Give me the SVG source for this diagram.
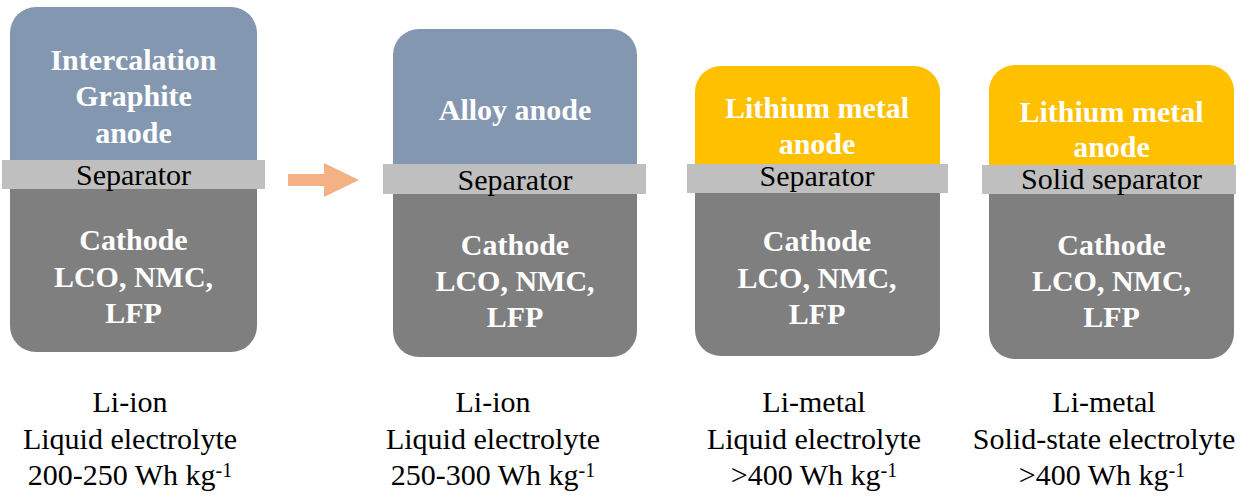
<svg xmlns="http://www.w3.org/2000/svg" width="1249" height="498" viewBox="0 0 1249 498">
<style>
.blue{fill:#8497B0}
.yel{fill:#FFC000}
.cat{fill:#7F7F7F}
.sep{fill:#BFBFBF}
text{font-family:'Liberation Serif', 'Times New Roman', serif;font-size:30px;text-anchor:middle}
.w{fill:#FFFFFF;font-weight:bold}
.k{fill:#000000}
.sup{font-size:20px}
</style>
<defs>
<clipPath id="edge"><rect x="0" y="0" width="1236" height="498"/></clipPath>
</defs>
<rect width="1249" height="498" fill="#FFFFFF"/>

<g id="cell1">
<path class="blue" d="M10 170 V33 A26 26 0 0 1 36 7 H231 A26 26 0 0 1 257 33 V170 Z"/>
<path class="cat" d="M10 182 H257 V326 A26 26 0 0 1 231 352 H36 A26 26 0 0 1 10 326 Z"/>
<rect class="sep" x="2" y="160" width="263" height="29"/>
<text class="w" x="133.5" y="70">Intercalation</text>
<text class="w" x="133.5" y="106">Graphite</text>
<text class="w" x="133.5" y="143">anode</text>
<text class="k" x="133.5" y="185">Separator</text>
<text class="w" x="133.5" y="250">Cathode</text>
<text class="w" x="133.5" y="287">LCO, NMC,</text>
<text class="w" x="133.5" y="323">LFP</text>
</g>

<g id="cell2">
<path class="blue" d="M393 175 V55 A26 26 0 0 1 419 29 H611 A26 26 0 0 1 637 55 V175 Z"/>
<path class="cat" d="M393 186 H637 V331 A26 26 0 0 1 611 357 H419 A26 26 0 0 1 393 331 Z"/>
<rect class="sep" x="383" y="164" width="263" height="30"/>
<text class="w" x="515" y="120">Alloy anode</text>
<text class="k" x="515" y="190">Separator</text>
<text class="w" x="515" y="255">Cathode</text>
<text class="w" x="515" y="291">LCO, NMC,</text>
<text class="w" x="515" y="327">LFP</text>
</g>

<g id="cell3">
<path class="yel" d="M695 175 V92 A26 26 0 0 1 721 66 H914 A26 26 0 0 1 940 92 V175 Z"/>
<path class="cat" d="M695 186 H940 V330 A26 26 0 0 1 914 356 H721 A26 26 0 0 1 695 330 Z"/>
<rect class="sep" x="687" y="164" width="261" height="29"/>
<text class="w" x="817" y="118">Lithium metal</text>
<text class="w" x="817" y="154">anode</text>
<text class="k" x="817" y="186">Separator</text>
<text class="w" x="817" y="251">Cathode</text>
<text class="w" x="817" y="288">LCO, NMC,</text>
<text class="w" x="817" y="324">LFP</text>
</g>

<g id="cell4">
<path class="yel" d="M989 175 V91 A26 26 0 0 1 1015 65 H1208 A26 26 0 0 1 1234 91 V175 Z"/>
<path class="cat" d="M989 186 H1234 V333 A26 26 0 0 1 1208 359 H1015 A26 26 0 0 1 989 333 Z"/>
<rect class="sep" x="982" y="165" width="254" height="29"/>
<text class="w" x="1111.5" y="121.5">Lithium metal</text>
<text class="w" x="1111.5" y="157">anode</text>
<text class="k" x="1111.5" y="189">Solid separator</text>
<text class="w" x="1111.5" y="255">Cathode</text>
<text class="w" x="1111.5" y="291">LCO, NMC,</text>
<text class="w" x="1111.5" y="327">LFP</text>
</g>

<g id="connectors">
<polygon fill="#F4B183" points="288,174 324,174 324,163 359,180 324,197 324,186 288,186"/>
</g>

<g id="label1">
<text class="k" x="130" y="412">Li-ion</text>
<text class="k" x="130" y="448.5">Liquid electrolyte</text>
<text class="k" x="130" y="485">200-250 Wh kg<tspan class="sup" dy="-8">-1</tspan></text>
</g>
<g id="label2">
<text class="k" x="493" y="412">Li-ion</text>
<text class="k" x="493" y="448.5">Liquid electrolyte</text>
<text class="k" x="493" y="485">250-300 Wh kg<tspan class="sup" dy="-8">-1</tspan></text>
</g>
<g id="label3">
<text class="k" x="814" y="412">Li-metal</text>
<text class="k" x="814" y="448.5">Liquid electrolyte</text>
<text class="k" x="814" y="485">&gt;400 Wh kg<tspan class="sup" dy="-8">-1</tspan></text>
</g>
<g id="label4" clip-path="url(#edge)">
<text class="k" x="1104" y="412">Li-metal</text>
<text class="k" x="1104" y="448.5">Solid-state electrolyte</text>
<text class="k" x="1102" y="485">&gt;400 Wh kg<tspan class="sup" dy="-8">-1</tspan></text>
</g>
</svg>
